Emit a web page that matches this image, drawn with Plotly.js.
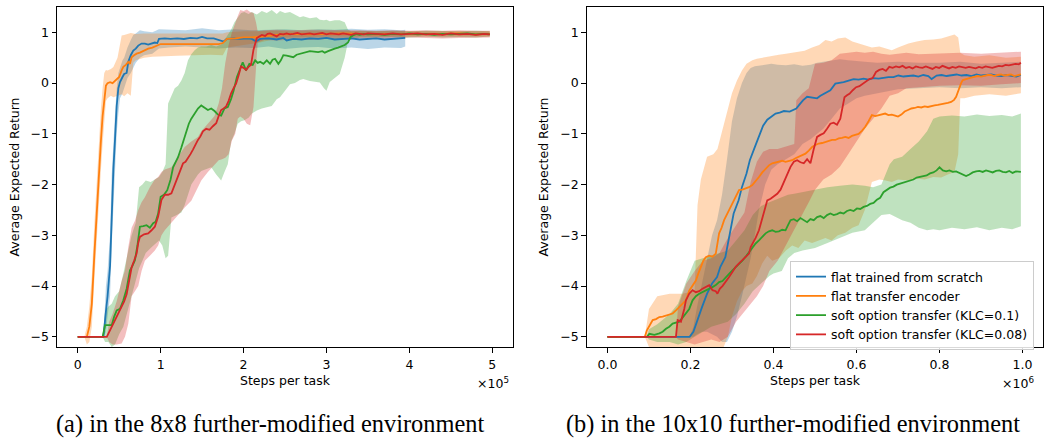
<!DOCTYPE html>
<html>
<head>
<meta charset="utf-8">
<script src="https://cdn.plot.ly/plotly-3.0.1.min.js"></script>
<style>
html,body{margin:0;padding:0;background:#fff;}
#chart{width:1045px;height:441px;}
</style>
</head>
<body>
<div id="chart"></div>
<script>
// ---------------- DATA ----------------
const seriesNames = ["flat trained from scratch", "flat transfer encoder", "soft option transfer (KLC=0.1)", "soft option transfer (KLC=0.08)"];
const seriesColors = ["#1f77b4", "#ff7f0e", "#2ca02c", "#d62728"];
const bandColors = ["rgba(31,119,180,0.3)", "rgba(255,127,14,0.3)", "rgba(44,160,44,0.3)", "rgba(214,39,40,0.3)"];
const yTicks = [-5, -4, -3, -2, -1, 0, 1];
const xTicksA = [0, 1, 2, 3, 4, 5];
const xTicksB = [0, 0.2, 0.4, 0.6, 0.8, 1.0];
const captionA = "(a) in the 8x8 further-modified environment";
const captionB = "(b) in the 10x10 further-modified environment";
const xTitle = "Steps per task";
const yTitle = "Average Expected Return";
const xScaleA = "×10<sup>5</sup>";
const xScaleB = "×10<sup>6</sup>";

// (a) 8x8 environment, x in units of 1e5 steps: [x, mean]
const a_blue = [[0,-5],[0.1,-5],[0.2,-5],[0.31,-5],[0.34,-4.5],[0.36,-4.2],[0.39,-3.6],[0.41,-2.45],[0.43,-1.7],[0.45,-1.1],[0.47,-0.45],[0.49,-0.1],[0.51,0.02],[0.54,0.12],[0.56,0.18],[0.59,0.2],[0.61,0.42],[0.64,0.55],[0.67,0.64],[0.7,0.68],[0.73,0.74],[0.77,0.78],[0.81,0.78],[0.85,0.76],[0.89,0.78],[0.93,0.8],[0.96,0.79],[0.98,0.87],[1.05,0.88],[1.12,0.87],[1.2,0.88],[1.28,0.87],[1.36,0.89],[1.44,0.88],[1.5,0.91],[1.56,0.88],[1.64,0.88],[1.72,0.85],[1.76,0.82],[1.8,0.87],[1.88,0.88],[1.96,0.87],[2.04,0.88],[2.1,0.87],[2.15,0.82],[2.2,0.87],[2.3,0.88],[2.4,0.86],[2.48,0.89],[2.52,0.84],[2.6,0.87],[2.7,0.86],[2.8,0.88],[2.9,0.87],[3.0,0.89],[3.1,0.86],[3.2,0.87],[3.3,0.88],[3.4,0.86],[3.5,0.87],[3.6,0.88],[3.7,0.86],[3.8,0.87],[3.9,0.88],[3.95,0.89]];
const a_orange = [[0,-5],[0.05,-5],[0.11,-5],[0.14,-4.8],[0.17,-4.35],[0.2,-3.4],[0.23,-2.45],[0.26,-1.7],[0.28,-1.13],[0.3,-0.65],[0.32,-0.28],[0.34,-0.05],[0.36,0.0],[0.39,0.02],[0.42,0.0],[0.45,0.05],[0.47,0.08],[0.5,0.12],[0.53,0.25],[0.55,0.32],[0.58,0.36],[0.61,0.42],[0.63,0.38],[0.65,0.51],[0.68,0.55],[0.71,0.58],[0.75,0.6],[0.79,0.63],[0.82,0.65],[0.85,0.68],[0.9,0.7],[0.97,0.76],[1.0,0.77],[1.1,0.77],[1.2,0.77],[1.3,0.78],[1.4,0.77],[1.5,0.77],[1.6,0.78],[1.7,0.77],[1.75,0.79],[1.8,0.87],[1.9,0.88],[2.0,0.9],[2.1,0.9],[2.2,0.92],[2.3,0.93],[2.4,0.95],[2.5,0.96],[2.6,0.97],[2.8,0.96],[3.0,0.97],[3.2,0.98],[3.4,0.97],[3.6,0.96],[3.8,0.97],[4.0,0.97],[4.2,0.96],[4.4,0.97],[4.6,0.98],[4.8,0.96],[4.97,0.97]];
const a_green = [[0,-5],[0.1,-5],[0.2,-5],[0.3,-5],[0.33,-4.77],[0.37,-4.77],[0.41,-4.77],[0.44,-4.6],[0.47,-4.48],[0.51,-4.45],[0.55,-4.28],[0.59,-4.05],[0.63,-3.69],[0.66,-3.6],[0.69,-3.49],[0.72,-3.2],[0.75,-2.83],[0.79,-2.82],[0.83,-2.8],[0.87,-2.85],[0.91,-2.76],[0.94,-2.73],[0.97,-2.57],[1.0,-2.24],[1.04,-2.2],[1.08,-2.11],[1.12,-1.9],[1.15,-1.66],[1.18,-1.55],[1.21,-1.46],[1.25,-1.27],[1.28,-1.1],[1.31,-0.98],[1.34,-0.8],[1.37,-0.7],[1.41,-0.6],[1.45,-0.5],[1.49,-0.44],[1.53,-0.48],[1.57,-0.53],[1.61,-0.5],[1.65,-0.55],[1.69,-0.62],[1.73,-0.64],[1.77,-0.5],[1.81,-0.47],[1.85,-0.31],[1.88,-0.15],[1.92,0.12],[1.96,0.3],[1.99,0.41],[2.03,0.25],[2.07,0.38],[2.11,0.36],[2.14,0.45],[2.17,0.4],[2.2,0.42],[2.24,0.38],[2.28,0.45],[2.32,0.38],[2.35,0.46],[2.38,0.48],[2.42,0.38],[2.45,0.45],[2.48,0.55],[2.52,0.54],[2.56,0.52],[2.6,0.51],[2.64,0.56],[2.68,0.58],[2.72,0.6],[2.76,0.61],[2.8,0.63],[2.85,0.62],[2.9,0.61],[2.95,0.63],[2.98,0.6],[3.02,0.63],[3.06,0.66],[3.1,0.68],[3.14,0.7],[3.18,0.72],[3.22,0.75],[3.26,0.8],[3.29,0.91],[3.32,0.94],[3.36,0.97],[3.4,0.95],[3.45,0.97],[3.5,0.96],[3.6,0.97],[3.7,0.95],[3.8,0.97],[3.9,0.96],[4.0,0.98],[4.1,0.96],[4.2,0.97],[4.3,0.95],[4.4,0.97],[4.5,0.96],[4.6,0.97],[4.7,0.98],[4.8,0.96],[4.9,0.97],[4.97,0.96]];
const a_red = [[0,-5],[0.1,-5],[0.2,-5],[0.3,-5],[0.35,-5],[0.38,-4.9],[0.41,-4.8],[0.44,-4.7],[0.47,-4.6],[0.5,-4.5],[0.53,-4.42],[0.56,-4.3],[0.59,-4.16],[0.62,-3.9],[0.65,-3.63],[0.68,-3.5],[0.71,-3.36],[0.73,-3.15],[0.75,-3.03],[0.8,-2.98],[0.85,-2.96],[0.89,-2.9],[0.93,-2.83],[0.97,-2.63],[1.01,-2.3],[1.05,-2.2],[1.09,-2.2],[1.13,-2.17],[1.16,-2.05],[1.19,-1.93],[1.23,-1.75],[1.27,-1.58],[1.3,-1.55],[1.33,-1.48],[1.36,-1.4],[1.39,-1.31],[1.42,-1.2],[1.45,-1.12],[1.48,-1.05],[1.51,-0.95],[1.55,-0.9],[1.59,-0.92],[1.63,-0.85],[1.67,-0.79],[1.7,-0.65],[1.73,-0.53],[1.76,-0.5],[1.79,-0.46],[1.82,-0.35],[1.85,-0.2],[1.88,-0.1],[1.91,-0.01],[1.94,0.15],[1.97,0.33],[2.0,0.3],[2.03,0.26],[2.06,0.32],[2.09,0.36],[2.12,0.66],[2.14,0.8],[2.16,0.89],[2.19,0.92],[2.22,0.95],[2.26,0.93],[2.29,0.97],[2.32,0.98],[2.36,0.95],[2.4,0.92],[2.44,0.97],[2.48,0.96],[2.52,0.98],[2.56,0.96],[2.6,0.97],[2.65,0.99],[2.7,0.96],[2.75,0.97],[2.8,0.98],[2.85,0.96],[2.9,0.97],[2.95,0.99],[3.0,0.96],[3.05,0.98],[3.1,0.97],[3.15,0.96],[3.2,0.98],[3.25,0.97],[3.3,0.95],[3.35,0.98],[3.4,0.97],[3.45,0.96],[3.5,0.98],[3.6,0.97],[3.7,0.96],[3.8,0.98],[3.9,0.96],[4.0,0.97],[4.1,0.98],[4.2,0.96],[4.3,0.97],[4.4,0.95],[4.5,0.98],[4.6,0.96],[4.7,0.97],[4.8,0.95],[4.9,0.97],[4.97,0.96]];
// (a) shaded spread: [x, lower, upper]
const a_blue_band = [[0.31,-5,-5],[0.34,-4.9,-4.0],[0.36,-4.6,-3.7],[0.39,-4.2,-3.0],[0.41,-3.2,-1.8],[0.43,-2.4,-1.1],[0.45,-1.8,-0.6],[0.47,-1.0,-0.1],[0.49,-0.6,0.2],[0.51,-0.3,0.3],[0.54,-0.2,0.45],[0.56,-0.1,0.5],[0.6,0.1,0.7],[0.64,0.2,0.85],[0.67,0.3,0.95],[0.7,0.4,0.98],[0.75,0.5,1.04],[0.8,0.55,1.02],[0.9,0.58,1.0],[0.98,0.68,1.06],[1.1,0.7,1.05],[1.3,0.72,1.04],[1.5,0.7,1.08],[1.7,0.68,1.04],[1.9,0.7,1.06],[2.1,0.69,1.04],[2.3,0.72,1.05],[2.5,0.67,1.06],[2.7,0.7,1.04],[2.9,0.71,1.06],[3.1,0.68,1.05],[3.3,0.7,1.07],[3.5,0.67,1.05],[3.7,0.7,1.06],[3.9,0.69,1.04],[3.95,0.72,1.05]];
const a_orange_band = [[0.08,-5,-5],[0.11,-5.15,-4.8],[0.14,-5.1,-4.4],[0.17,-4.8,-3.8],[0.2,-3.9,-2.8],[0.23,-3.0,-1.9],[0.26,-2.3,-1.1],[0.28,-1.7,-0.5],[0.3,-1.2,-0.1],[0.32,-0.7,0.2],[0.34,-0.35,0.26],[0.36,-0.3,0.25],[0.4,-0.25,0.28],[0.43,-0.28,0.32],[0.48,-0.25,0.5],[0.53,-0.22,0.94],[0.56,-0.26,0.95],[0.6,-0.2,0.97],[0.64,-0.25,0.99],[0.67,0.4,0.98],[0.7,0.45,0.97],[0.8,0.5,0.98],[0.9,0.52,0.98],[1.0,0.53,0.98],[1.2,0.54,0.99],[1.4,0.55,0.98],[1.6,0.56,0.99],[1.75,0.55,0.98],[1.8,0.7,1.0],[2.0,0.75,1.02],[2.2,0.8,1.02],[2.4,0.88,1.03],[2.5,0.9,1.02],[3.0,0.92,1.02],[3.5,0.92,1.02],[4.0,0.92,1.02],[4.5,0.91,1.02],[4.97,0.92,1.02]];
const a_green_band = [[0.3,-5,-5],[0.33,-5.1,-4.5],[0.37,-5.1,-4.4],[0.41,-5.2,-4.35],[0.45,-5.15,-4.2],[0.5,-4.95,-4.1],[0.55,-4.8,-3.75],[0.6,-4.5,-3.4],[0.65,-4.2,-3.0],[0.7,-3.9,-2.75],[0.74,-3.65,-2.05],[0.78,-3.5,-2.0],[0.82,-3.35,-1.92],[0.88,-3.25,-1.95],[0.94,-3.15,-1.88],[0.98,-3.1,-1.85],[1.02,-3.2,-1.75],[1.06,-3.45,-1.6],[1.09,-3.4,-0.4],[1.13,-2.65,-0.25],[1.17,-2.62,-0.1],[1.21,-2.58,-0.05],[1.25,-2.55,0.05],[1.29,-2.4,0.2],[1.33,-2.2,0.45],[1.37,-2.0,0.57],[1.41,-1.9,0.65],[1.45,-1.8,0.7],[1.49,-1.73,0.72],[1.55,-1.7,0.72],[1.61,-1.66,0.75],[1.67,-1.8,0.72],[1.73,-1.92,0.76],[1.77,-1.75,0.85],[1.81,-1.6,0.95],[1.85,-1.15,1.05],[1.89,-1.0,1.2],[1.93,-0.8,1.3],[1.97,-0.75,1.38],[2.01,-0.73,1.4],[2.06,-0.68,1.36],[2.1,-0.6,1.4],[2.16,-0.54,1.35],[2.22,-0.5,1.42],[2.28,-0.47,1.38],[2.34,-0.45,1.44],[2.4,-0.32,1.36],[2.44,-0.28,1.42],[2.5,-0.15,1.38],[2.56,-0.02,1.4],[2.62,0.0,1.35],[2.68,0.06,1.3],[2.72,0.08,1.32],[2.8,0.04,1.28],[2.88,0.02,1.3],[2.92,0.01,1.25],[2.97,-0.1,1.24],[3.0,-0.15,1.25],[3.04,0.02,1.22],[3.1,0.1,1.24],[3.16,0.18,1.24],[3.22,0.5,1.2],[3.26,0.82,1.05],[3.3,0.87,1.02],[3.4,0.9,1.03],[3.6,0.9,1.02],[3.8,0.91,1.03],[4.0,0.9,1.02],[4.2,0.92,1.03],[4.4,0.9,1.02],[4.6,0.91,1.02],[4.8,0.9,1.03],[4.97,0.92,1.02]];
const a_red_band = [[0.35,-5,-5],[0.38,-5.1,-4.7],[0.42,-5.15,-4.55],[0.47,-5.15,-4.3],[0.53,-5.13,-3.9],[0.57,-5.0,-3.69],[0.61,-4.74,-3.23],[0.63,-4.4,-3.0],[0.65,-4.2,-2.85],[0.69,-4.1,-2.71],[0.73,-4.0,-2.5],[0.77,-3.7,-2.35],[0.81,-3.5,-2.25],[0.87,-3.4,-2.05],[0.93,-3.3,-1.9],[0.97,-3.2,-1.85],[1.01,-3.0,-1.75],[1.05,-2.9,-1.7],[1.13,-2.75,-1.66],[1.21,-2.58,-1.45],[1.29,-2.45,-1.26],[1.37,-2.32,-1.15],[1.45,-2.05,-1.06],[1.49,-1.92,-0.95],[1.57,-1.75,-0.8],[1.65,-1.6,-0.65],[1.7,-1.52,-0.4],[1.74,-1.5,-0.1],[1.78,-1.47,0.4],[1.82,-1.4,0.75],[1.86,-1.13,1.0],[1.9,-1.0,1.2],[1.93,-0.7,1.32],[1.96,-0.66,1.44],[2.0,-0.7,1.42],[2.04,-0.8,1.45],[2.08,-0.83,1.4],[2.12,-0.47,1.38],[2.15,0.4,1.2],[2.17,0.8,1.02],[2.25,0.85,1.04],[2.4,0.84,1.05],[2.6,0.86,1.04],[2.8,0.85,1.05],[3.0,0.87,1.05],[3.2,0.86,1.04],[3.4,0.88,1.04],[3.6,0.88,1.03],[3.8,0.87,1.04],[4.0,0.9,1.03],[4.2,0.89,1.04],[4.4,0.88,1.03],[4.6,0.89,1.04],[4.8,0.9,1.03],[4.97,0.9,1.03]];

// (b) 10x10 environment, x in units of 1e6 steps: [x, mean]
const b_blue = [[0,-5],[0.1,-5],[0.198,-5],[0.207,-4.9],[0.216,-4.67],[0.228,-4.41],[0.24,-4.15],[0.252,-3.95],[0.264,-3.82],[0.272,-3.62],[0.284,-3.43],[0.292,-3.1],[0.304,-2.57],[0.316,-2.31],[0.324,-2.05],[0.335,-1.78],[0.343,-1.52],[0.355,-1.26],[0.367,-1.0],[0.375,-0.84],[0.385,-0.72],[0.395,-0.66],[0.405,-0.6],[0.415,-0.58],[0.425,-0.55],[0.439,-0.56],[0.455,-0.5],[0.463,-0.42],[0.471,-0.34],[0.481,-0.27],[0.493,-0.29],[0.505,-0.3],[0.513,-0.25],[0.521,-0.21],[0.529,-0.18],[0.537,-0.14],[0.549,-0.01],[0.559,0.0],[0.569,0.02],[0.581,0.05],[0.593,0.08],[0.605,0.07],[0.617,0.09],[0.629,0.07],[0.641,0.1],[0.653,0.09],[0.665,0.11],[0.677,0.12],[0.689,0.12],[0.701,0.15],[0.713,0.13],[0.725,0.14],[0.737,0.15],[0.749,0.13],[0.761,0.16],[0.773,0.14],[0.781,0.08],[0.793,0.15],[0.805,0.16],[0.817,0.14],[0.829,0.15],[0.841,0.17],[0.853,0.15],[0.865,0.16],[0.877,0.14],[0.889,0.17],[0.901,0.15],[0.913,0.16],[0.925,0.17],[0.937,0.15],[0.949,0.14],[0.961,0.16],[0.973,0.15],[0.985,0.13],[0.996,0.16]];
const b_orange = [[0,-5],[0.05,-5],[0.09,-5],[0.095,-4.87],[0.101,-4.77],[0.109,-4.67],[0.117,-4.65],[0.125,-4.61],[0.133,-4.6],[0.141,-4.58],[0.149,-4.56],[0.157,-4.54],[0.165,-4.48],[0.173,-4.41],[0.181,-4.35],[0.189,-4.28],[0.197,-4.09],[0.205,-4.0],[0.213,-3.89],[0.219,-3.75],[0.225,-3.62],[0.231,-3.5],[0.237,-3.43],[0.245,-3.4],[0.253,-3.42],[0.261,-3.36],[0.269,-2.96],[0.275,-2.85],[0.281,-2.7],[0.287,-2.6],[0.293,-2.5],[0.299,-2.4],[0.305,-2.31],[0.311,-2.2],[0.317,-2.11],[0.325,-2.1],[0.333,-2.08],[0.341,-2.05],[0.349,-2.01],[0.357,-1.94],[0.365,-1.85],[0.373,-1.76],[0.381,-1.68],[0.389,-1.62],[0.397,-1.58],[0.405,-1.56],[0.413,-1.55],[0.421,-1.53],[0.429,-1.55],[0.437,-1.53],[0.445,-1.52],[0.453,-1.48],[0.461,-1.45],[0.469,-1.42],[0.477,-1.39],[0.485,-1.33],[0.493,-1.26],[0.501,-1.22],[0.509,-1.19],[0.517,-1.18],[0.525,-1.16],[0.533,-1.13],[0.541,-1.12],[0.549,-1.12],[0.557,-1.09],[0.565,-1.08],[0.573,-1.06],[0.581,-1.08],[0.589,-1.04],[0.597,-1.02],[0.605,-1.0],[0.613,-0.94],[0.621,-0.86],[0.629,-0.75],[0.637,-0.63],[0.645,-0.65],[0.653,-0.63],[0.661,-0.62],[0.669,-0.6],[0.677,-0.63],[0.685,-0.62],[0.693,-0.64],[0.7,-0.66],[0.708,-0.62],[0.716,-0.56],[0.724,-0.53],[0.732,-0.5],[0.74,-0.49],[0.748,-0.47],[0.756,-0.48],[0.764,-0.46],[0.772,-0.47],[0.78,-0.45],[0.788,-0.44],[0.796,-0.43],[0.804,-0.42],[0.812,-0.4],[0.82,-0.39],[0.828,-0.37],[0.835,-0.33],[0.84,-0.27],[0.844,-0.17],[0.848,-0.07],[0.852,0.0],[0.856,0.06],[0.862,0.08],[0.868,0.09],[0.876,0.11],[0.884,0.13],[0.892,0.14],[0.9,0.13],[0.908,0.15],[0.916,0.16],[0.924,0.16],[0.932,0.14],[0.94,0.16],[0.948,0.17],[0.956,0.15],[0.964,0.16],[0.972,0.17],[0.98,0.14],[0.988,0.16],[0.996,0.17]];
const b_green = [[0,-5],[0.05,-5],[0.095,-5],[0.101,-4.94],[0.113,-4.96],[0.125,-4.93],[0.133,-4.9],[0.141,-4.84],[0.149,-4.8],[0.157,-4.74],[0.165,-4.72],[0.173,-4.7],[0.181,-4.62],[0.189,-4.54],[0.197,-4.45],[0.205,-4.28],[0.213,-4.2],[0.221,-4.15],[0.229,-4.12],[0.237,-4.08],[0.245,-4.05],[0.253,-4.02],[0.261,-3.98],[0.269,-3.92],[0.277,-3.9],[0.285,-3.82],[0.293,-3.76],[0.301,-3.69],[0.309,-3.63],[0.317,-3.56],[0.325,-3.5],[0.333,-3.42],[0.341,-3.33],[0.349,-3.23],[0.357,-3.16],[0.365,-3.1],[0.373,-3.02],[0.381,-2.96],[0.389,-2.92],[0.397,-2.9],[0.405,-2.93],[0.413,-2.92],[0.421,-2.89],[0.429,-2.9],[0.435,-2.8],[0.441,-2.7],[0.449,-2.68],[0.457,-2.72],[0.465,-2.66],[0.473,-2.7],[0.481,-2.74],[0.489,-2.68],[0.497,-2.7],[0.505,-2.64],[0.513,-2.62],[0.521,-2.66],[0.529,-2.6],[0.537,-2.57],[0.545,-2.6],[0.553,-2.58],[0.561,-2.55],[0.569,-2.57],[0.577,-2.52],[0.585,-2.5],[0.593,-2.52],[0.601,-2.47],[0.609,-2.48],[0.617,-2.44],[0.625,-2.42],[0.633,-2.38],[0.641,-2.36],[0.649,-2.3],[0.657,-2.26],[0.665,-2.15],[0.673,-2.1],[0.681,-2.06],[0.689,-2.04],[0.697,-2.0],[0.705,-1.98],[0.713,-1.96],[0.721,-1.93],[0.729,-1.92],[0.737,-1.9],[0.745,-1.86],[0.753,-1.85],[0.761,-1.84],[0.769,-1.82],[0.777,-1.78],[0.785,-1.76],[0.793,-1.72],[0.8,-1.66],[0.808,-1.72],[0.816,-1.74],[0.824,-1.72],[0.832,-1.75],[0.84,-1.74],[0.848,-1.77],[0.856,-1.8],[0.864,-1.83],[0.872,-1.8],[0.88,-1.76],[0.888,-1.74],[0.896,-1.73],[0.904,-1.75],[0.912,-1.72],[0.92,-1.74],[0.928,-1.76],[0.936,-1.73],[0.944,-1.72],[0.952,-1.75],[0.96,-1.76],[0.968,-1.73],[0.976,-1.77],[0.984,-1.74],[0.996,-1.75]];
const b_red = [[0,-5],[0.1,-5],[0.165,-5],[0.169,-4.67],[0.177,-4.7],[0.185,-4.45],[0.189,-4.28],[0.197,-4.15],[0.205,-4.08],[0.213,-4.12],[0.221,-4.1],[0.229,-4.05],[0.237,-4.02],[0.245,-3.98],[0.253,-4.08],[0.261,-4.1],[0.265,-4.15],[0.271,-4.05],[0.277,-4.0],[0.285,-3.92],[0.293,-3.82],[0.301,-3.72],[0.309,-3.62],[0.317,-3.55],[0.325,-3.49],[0.333,-3.42],[0.341,-3.36],[0.345,-3.23],[0.351,-3.15],[0.357,-3.05],[0.365,-2.9],[0.369,-2.77],[0.373,-2.7],[0.381,-2.44],[0.385,-2.31],[0.393,-2.28],[0.401,-2.22],[0.409,-2.18],[0.417,-2.1],[0.425,-1.95],[0.433,-1.8],[0.441,-1.65],[0.449,-1.55],[0.457,-1.52],[0.465,-1.56],[0.473,-1.58],[0.481,-1.5],[0.489,-1.58],[0.497,-1.3],[0.505,-1.06],[0.513,-1.02],[0.521,-0.99],[0.529,-0.9],[0.537,-0.8],[0.545,-0.78],[0.553,-0.82],[0.561,-0.7],[0.567,-0.45],[0.571,-0.28],[0.577,-0.24],[0.583,-0.21],[0.591,-0.14],[0.599,-0.08],[0.607,-0.06],[0.615,-0.01],[0.623,0.04],[0.631,0.08],[0.639,0.1],[0.647,0.22],[0.655,0.26],[0.663,0.28],[0.671,0.24],[0.679,0.32],[0.687,0.3],[0.695,0.33],[0.703,0.31],[0.711,0.34],[0.719,0.3],[0.727,0.32],[0.735,0.29],[0.743,0.33],[0.751,0.31],[0.759,0.3],[0.767,0.33],[0.775,0.31],[0.783,0.28],[0.791,0.32],[0.799,0.3],[0.807,0.34],[0.815,0.31],[0.823,0.29],[0.831,0.32],[0.839,0.3],[0.847,0.33],[0.855,0.31],[0.863,0.3],[0.871,0.32],[0.879,0.31],[0.887,0.29],[0.895,0.32],[0.903,0.3],[0.911,0.33],[0.919,0.31],[0.927,0.3],[0.935,0.32],[0.943,0.34],[0.951,0.33],[0.959,0.36],[0.967,0.35],[0.975,0.37],[0.983,0.38],[0.991,0.37],[0.996,0.4]];
// (b) shaded spread: [x, lower, upper]
const b_blue_band = [[0.198,-5,-5],[0.207,-5.0,-4.8],[0.216,-4.95,-4.4],[0.228,-4.9,-3.95],[0.24,-4.9,-3.45],[0.252,-4.95,-3.0],[0.264,-5.0,-2.7],[0.276,-5.1,-2.2],[0.288,-5.1,-1.5],[0.3,-4.9,-0.75],[0.312,-4.6,-0.3],[0.324,-4.2,0.0],[0.335,-3.8,0.2],[0.345,-3.45,0.3],[0.355,-3.0,0.33],[0.365,-2.5,0.34],[0.38,-2.0,0.36],[0.395,-1.7,0.38],[0.41,-1.6,0.36],[0.43,-1.5,0.35],[0.45,-1.4,0.37],[0.47,-1.2,0.34],[0.49,-1.1,0.36],[0.505,-1.0,0.4],[0.52,-0.9,0.42],[0.54,-0.7,0.45],[0.56,-0.5,0.47],[0.58,-0.4,0.45],[0.6,-0.3,0.44],[0.62,-0.25,0.42],[0.65,-0.2,0.4],[0.7,-0.12,0.42],[0.75,-0.1,0.4],[0.8,-0.08,0.4],[0.85,-0.1,0.42],[0.9,-0.08,0.38],[0.95,-0.1,0.4],[0.996,-0.08,0.42]];
const b_orange_band = [[0.09,-5,-5],[0.1,-5.2,-4.45],[0.12,-5.3,-4.2],[0.15,-5.35,-4.15],[0.18,-5.3,-4.15],[0.21,-5.3,-4.1],[0.217,-5.3,-2.4],[0.225,-5.3,-1.9],[0.24,-5.3,-1.45],[0.255,-5.3,-1.4],[0.265,-5.3,-1.3],[0.28,-5.2,-0.85],[0.29,-5.0,-0.5],[0.3,-4.6,-0.2],[0.312,-4.3,0.05],[0.324,-4.1,0.25],[0.335,-4.0,0.38],[0.349,-3.95,0.45],[0.36,-3.8,0.48],[0.373,-3.55,0.5],[0.385,-3.4,0.52],[0.397,-3.5,0.55],[0.413,-3.45,0.56],[0.43,-3.3,0.58],[0.445,-3.2,0.6],[0.46,-3.25,0.62],[0.475,-3.1,0.64],[0.493,-3.15,0.7],[0.51,-3.1,0.75],[0.525,-3.05,0.85],[0.54,-3.1,0.82],[0.555,-3.0,0.88],[0.573,-2.95,0.9],[0.59,-2.85,0.82],[0.605,-2.8,0.78],[0.62,-2.5,0.74],[0.637,-1.95,0.7],[0.655,-1.9,0.72],[0.67,-1.92,0.68],[0.685,-1.95,0.65],[0.7,-1.9,0.7],[0.725,-1.92,0.78],[0.745,-1.88,0.82],[0.764,-1.9,0.85],[0.785,-1.85,0.86],[0.804,-1.86,0.88],[0.82,-1.8,0.92],[0.836,-1.75,0.96],[0.845,-1.4,0.9],[0.85,-0.3,0.6],[0.86,-0.3,0.55],[0.884,-0.25,0.52],[0.92,-0.22,0.55],[0.96,-0.25,0.5],[0.996,-0.2,0.52]];
const b_green_band = [[0.095,-5,-5],[0.1,-5.05,-4.85],[0.12,-5.1,-4.75],[0.15,-5.1,-4.55],[0.17,-5.15,-4.35],[0.19,-5.1,-3.9],[0.21,-5.0,-3.5],[0.23,-4.9,-3.45],[0.25,-4.8,-3.4],[0.27,-4.75,-3.35],[0.29,-4.7,-3.3],[0.31,-4.55,-3.1],[0.33,-4.35,-2.9],[0.35,-4.1,-2.6],[0.37,-3.95,-2.42],[0.39,-3.8,-2.35],[0.4,-3.75,-2.32],[0.42,-3.7,-2.25],[0.435,-3.45,-2.2],[0.45,-3.35,-2.18],[0.47,-3.3,-2.15],[0.5,-3.25,-2.1],[0.53,-3.15,-2.05],[0.56,-3.05,-2.02],[0.59,-2.95,-2.0],[0.62,-2.9,-2.02],[0.64,-2.75,-2.05],[0.66,-2.6,-2.0],[0.68,-2.58,-1.6],[0.69,-2.62,-1.5],[0.71,-2.7,-1.45],[0.73,-2.75,-1.3],[0.75,-2.85,-1.15],[0.77,-2.9,-0.95],[0.785,-2.88,-0.7],[0.8,-2.9,-0.66],[0.83,-2.85,-0.64],[0.86,-2.88,-0.66],[0.89,-2.84,-0.62],[0.92,-2.9,-0.65],[0.95,-2.85,-0.63],[0.975,-2.88,-0.66],[0.996,-2.82,-0.6]];
const b_red_band = [[0.165,-5,-5],[0.17,-5.05,-4.4],[0.19,-5.1,-3.95],[0.21,-5.15,-3.7],[0.23,-5.1,-3.5],[0.25,-5.05,-3.45],[0.27,-5.1,-3.35],[0.29,-5.0,-3.05],[0.31,-4.7,-2.8],[0.33,-4.5,-2.55],[0.345,-4.35,-1.95],[0.36,-4.2,-1.55],[0.375,-4.0,-1.35],[0.39,-3.7,-1.3],[0.41,-3.5,-1.3],[0.43,-3.2,-1.25],[0.45,-2.9,-1.2],[0.455,-2.8,-0.34],[0.47,-2.6,-0.2],[0.485,-2.35,-0.1],[0.5,-2.1,0.38],[0.52,-1.9,0.4],[0.54,-1.8,0.45],[0.56,-1.65,0.58],[0.58,-1.4,0.6],[0.6,-1.15,0.62],[0.62,-0.9,0.6],[0.64,-0.7,0.62],[0.66,-0.5,0.58],[0.68,-0.25,0.56],[0.7,-0.2,0.58],[0.72,-0.1,0.6],[0.75,-0.08,0.57],[0.8,-0.05,0.58],[0.85,-0.04,0.6],[0.9,-0.05,0.58],[0.95,-0.02,0.6],[0.996,0.0,0.62]];

// ---------------- BUILD ----------------
const FONT = "DejaVu Sans, Verdana, sans-serif";
const traces = [];

function addBand(band, idx, xa, ya) {
  traces.push({
    type: "scatter", mode: "lines", xaxis: xa, yaxis: ya,
    x: band.map(p => p[0]), y: band.map(p => p[1]),
    line: {width: 0, color: bandColors[idx]}, showlegend: false, hoverinfo: "skip"
  });
  traces.push({
    type: "scatter", mode: "lines", xaxis: xa, yaxis: ya,
    x: band.map(p => p[0]), y: band.map(p => p[2]),
    fill: "tonexty", fillcolor: bandColors[idx],
    line: {width: 0, color: bandColors[idx]}, showlegend: false, hoverinfo: "skip"
  });
}
function addLine(pts, idx, xa, ya, legend) {
  traces.push({
    type: "scatter", mode: "lines", xaxis: xa, yaxis: ya,
    x: pts.map(p => p[0]), y: pts.map(p => p[1]),
    name: seriesNames[idx], showlegend: legend,
    line: {color: seriesColors[idx], width: 1.8}
  });
}

const aMeans = [a_blue, a_orange, a_green, a_red];
const aBands = [a_blue_band, a_orange_band, a_green_band, a_red_band];
const bMeans = [b_blue, b_orange, b_green, b_red];
const bBands = [b_blue_band, b_orange_band, b_green_band, b_red_band];

for (let i = 0; i < 4; i++) addBand(aBands[i], i, "x", "y");
for (let i = 0; i < 4; i++) addBand(bBands[i], i, "x2", "y2");
for (let i = 0; i < 4; i++) addLine(aMeans[i], i, "x", "y", false);
for (let i = 0; i < 4; i++) addLine(bMeans[i], i, "x2", "y2", true);

const axisCommon = {
  showline: true, linecolor: "#000", linewidth: 1, mirror: true,
  ticks: "outside", ticklen: 4.5, tickwidth: 1, tickcolor: "#000",
  showgrid: false, zeroline: false,
  tickfont: {family: FONT, size: 12.5, color: "#000"},
  automargin: false
};
const yDom = [1 - 347/441, 1 - 7/441];
const titleFont = {family: FONT, size: 12.5, color: "#000"};

const layout = {
  width: 1045, height: 441,
  margin: {l: 0, r: 0, t: 0, b: 0},
  paper_bgcolor: "#fff", plot_bgcolor: "#fff",
  font: {family: FONT, size: 12.5, color: "#000"},
  xaxis: Object.assign({}, axisCommon, {
    domain: [57/1045, 513/1045], anchor: "y", range: [-0.25, 5.25],
    tickvals: xTicksA, ticklabelstandoff: 1,
    title: {text: xTitle, font: titleFont, standoff: 5}
  }),
  yaxis: Object.assign({}, axisCommon, {
    domain: yDom, anchor: "x", range: [-5.2, 1.5],
    tickvals: yTicks,
    title: {text: yTitle, font: titleFont, standoff: 8}
  }),
  xaxis2: Object.assign({}, axisCommon, {
    domain: [586.7/1045, 1043.3/1045], anchor: "y2", range: [-0.05, 1.05],
    tickvals: xTicksB, tickformat: ".1f", ticklabelstandoff: 1,
    title: {text: xTitle, font: titleFont, standoff: 5}
  }),
  yaxis2: Object.assign({}, axisCommon, {
    domain: yDom, anchor: "x2", range: [-5.2, 1.5],
    tickvals: yTicks,
    title: {text: yTitle, font: titleFont, standoff: 8}
  }),
  showlegend: true,
  legend: {
    x: 790/1045, y: 1 - 261/441, xanchor: "left", yanchor: "top",
    traceorder: "normal",
    bgcolor: "rgba(255,255,255,0.85)", bordercolor: "#cccccc", borderwidth: 1,
    font: {family: FONT, size: 12.5, color: "#000"},
    itemwidth: 30, tracegroupgap: 0
  },
  annotations: [
    {text: xScaleA, xref: "paper", yref: "paper", x: 511/1045, y: 1 - 383/441,
     xanchor: "right", yanchor: "middle", showarrow: false,
     font: {family: FONT, size: 12.5, color: "#000"}},
    {text: xScaleB, xref: "paper", yref: "paper", x: 1036/1045, y: 1 - 383/441,
     xanchor: "right", yanchor: "middle", showarrow: false,
     font: {family: FONT, size: 12.5, color: "#000"}},
    {text: captionA, xref: "paper", yref: "paper", x: 270/1045, y: 1 - 424/441,
     xanchor: "center", yanchor: "middle", showarrow: false,
     font: {family: "Liberation Serif, Times New Roman, serif", size: 24.4, color: "#000"}},
    {text: captionB, xref: "paper", yref: "paper", x: 793/1045, y: 1 - 424/441,
     xanchor: "center", yanchor: "middle", showarrow: false,
     font: {family: "Liberation Serif, Times New Roman, serif", size: 24.4, color: "#000"}}
  ]
};

Plotly.newPlot("chart", traces, layout, {displayModeBar: false, staticPlot: true});
</script>
</body>
</html>
